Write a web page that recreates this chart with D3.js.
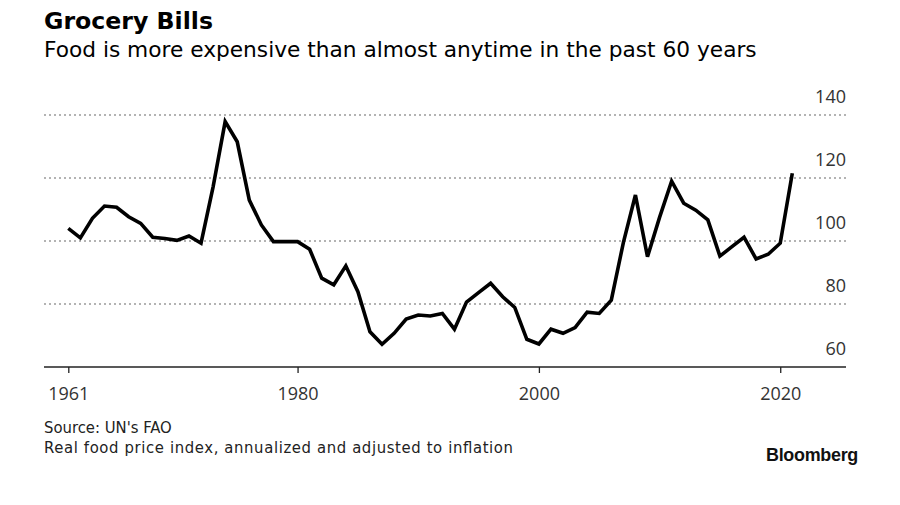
<!DOCTYPE html>
<html><head><meta charset="utf-8">
<script src="https://cdn.jsdelivr.net/npm/d3@7"></script>
<style>body{margin:0;background:#fff}svg{display:block}</style>
</head><body>
<svg id="c" width="900" height="505"></svg>
<script>
const years = d3.range(1961, 2022);
const values = [
  104.0, 101.0, 107.2, 111.1, 110.7, 107.7, 105.6, 101.2, 100.8, 100.2,
  101.6, 99.3, 117.2, 137.9, 131.5, 113.0, 105.1, 99.8, 99.8, 99.8,
  97.4, 88.2, 86.1, 92.1, 83.9, 71.2, 67.2, 70.7, 75.2, 76.5,
  76.2, 77.0, 72.0, 80.6, 83.6, 86.6, 82.3, 78.9, 68.8, 67.3,
  72.0, 70.7, 72.5, 77.4, 77.0, 81.2, 99.5, 114.6, 95.0, 107.5,
  119.0, 112.0, 109.8, 106.7, 95.2, 98.2, 101.2, 94.3, 95.8, 99.3, 121.5
];
const xTicks = [1961, 1980, 2000, 2020];
const yTicks = [60, 80, 100, 120, 140];

const svg = d3.select("#c");
const x = d3.scaleLinear().domain([1961, 2021]).range([68.3, 792.3]);
const y = d3.scaleLinear().domain([60, 140]).range([367, 115]);
const left = 44, right = 846;

function fit(sel, target) {
  const n = sel.node();
  const w = n.getComputedTextLength();
  const fs = parseFloat(sel.attr("font-size"));
  if (w > 0) sel.attr("font-size", (fs * target / w).toFixed(2));
}

// gridlines
svg.append("g").selectAll("line").data(yTicks.filter(d => d > 60)).join("line")
  .attr("x1", left).attr("x2", right)
  .attr("y1", d => y(d)).attr("y2", d => y(d))
  .attr("stroke", "#9a9a9a").attr("stroke-width", 1.3)
  .attr("stroke-dasharray", "2,3");

// y labels
svg.append("g").selectAll("text").data(yTicks).join("text")
  .attr("x", right).attr("y", d => y(d) - 12)
  .attr("text-anchor", "end")
  .attr("font-family", "'Open Sans', sans-serif").attr("font-size", 18)
  .attr("fill", "#333").text(d => d);

// x axis
const xAxis = d3.axisBottom(x).tickValues(xTicks).tickFormat(d3.format("d"))
  .tickSize(6).tickSizeOuter(0);
const gx = svg.append("g").attr("transform", `translate(0,${y(60)})`).call(xAxis);
gx.select(".domain").remove();
gx.append("line").attr("x1", left).attr("x2", right).attr("y1", 0).attr("y2", 0)
  .attr("stroke", "#222").attr("stroke-width", 1.5);
gx.selectAll(".tick line").attr("stroke", "#222").attr("stroke-width", 1.3);
gx.selectAll(".tick text").attr("dy", null).attr("y", 33)
  .attr("font-family", "'Open Sans', sans-serif").attr("font-size", 18)
  .attr("fill", "#333");

// line
const line = d3.line().x((d, i) => x(years[i])).y(d => y(d));
svg.append("path").datum(values)
  .attr("d", line).attr("fill", "none")
  .attr("stroke", "#000").attr("stroke-width", 3.6)
  .attr("stroke-linejoin", "miter").attr("stroke-miterlimit", 3);

// titles
const t1 = svg.append("text").attr("x", 44).attr("y", 28.5)
  .attr("font-family", "'DejaVu Sans', sans-serif").attr("font-weight", "bold")
  .attr("font-size", 21).attr("fill", "#000").text("Grocery Bills");
fit(t1, 169);
const t2 = svg.append("text").attr("x", 44).attr("y", 56.5)
  .attr("font-family", "'DejaVu Sans', sans-serif")
  .attr("font-size", 19).attr("fill", "#000")
  .text("Food is more expensive than almost anytime in the past 60 years");
fit(t2, 713);

// footer
const f1 = svg.append("text").attr("x", 44).attr("y", 432.5)
  .attr("font-family", "'DejaVu Sans Condensed', 'DejaVu Sans', sans-serif")
  .attr("font-size", 16.5).attr("fill", "#222").text("Source: UN's FAO");
const f2 = svg.append("text").attr("x", 44).attr("y", 452.5)
  .attr("font-family", "'DejaVu Sans Condensed', 'DejaVu Sans', sans-serif")
  .attr("font-size", 16.5).attr("fill", "#222")
  .attr("textLength", 469).attr("lengthAdjust", "spacing")
  .text("Real food price index, annualized and adjusted to inflation");

const b = svg.append("text").attr("x", 858).attr("y", 461)
  .attr("text-anchor", "end")
  .attr("font-family", "'Liberation Sans Narrow', 'Liberation Sans', sans-serif")
  .attr("font-weight", "bold").attr("font-size", 18).attr("fill", "#111")
  .attr("letter-spacing", -0.3)
  .text("Bloomberg");
fit(b, 92);
</script>
</body></html>
